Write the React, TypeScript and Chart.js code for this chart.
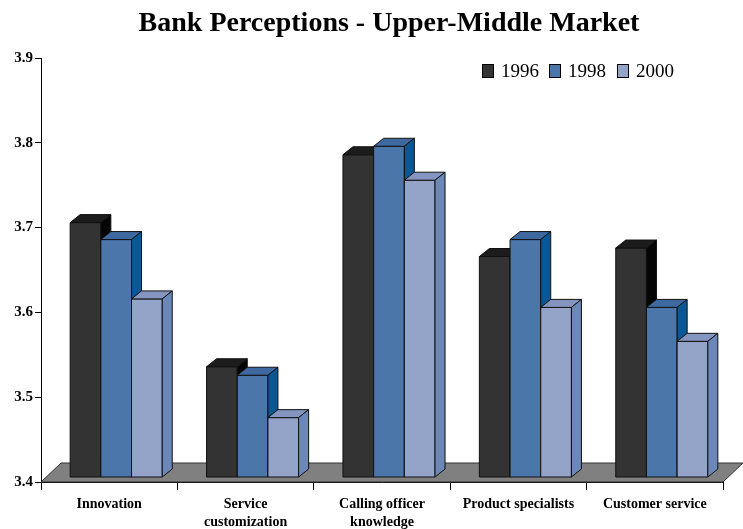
import React, { useEffect, useRef } from "react";
import { Chart, registerables } from "chart.js";

Chart.register(...registerables);

const title = "Bank Perceptions - Upper-Middle Market";
const categories = [
  "Innovation",
  ["Service", "customization"],
  ["Calling officer", "knowledge"],
  "Product specialists",
  "Customer service",
];
const seriesNames = ["1996", "1998", "2000"];
const values1996 = [3.7, 3.53, 3.78, 3.66, 3.67];
const values1998 = [3.68, 3.52, 3.79, 3.68, 3.6];
const values2000 = [3.61, 3.47, 3.75, 3.6, 3.56];
const yMin = 3.4;
const yMax = 3.9;
const yStep = 0.1;

const FRONT = ["#333333", "#4a76aa", "#94a4c8"];
const TOP = ["#1c1c1c", "#3d69a0", "#8495c0"];
const SIDE = ["#050505", "#0a5796", "#6c88b8"];

const SERIF = '"Liberation Serif", "Times New Roman", serif';

const threeD = {
  id: "threeD",
  beforeDatasetsDraw(chart: any) {
    const ctx = chart.ctx;
    const area = chart.chartArea;
    const fdx = 20, fdy = -19;
    // floor
    ctx.save();
    ctx.beginPath();
    ctx.moveTo(area.left, area.bottom);
    ctx.lineTo(area.right, area.bottom);
    ctx.lineTo(area.right + fdx, area.bottom + fdy);
    ctx.lineTo(area.left + fdx, area.bottom + fdy);
    ctx.closePath();
    ctx.fillStyle = "#808080";
    ctx.fill();
    ctx.strokeStyle = "#333333";
    ctx.lineWidth = 1;
    ctx.stroke();

    const ox = 7, oy = -5, dx = 10, dy = -8;
    const n = chart.data.labels.length;
    const basePx = chart.scales.y.getPixelForValue(yMin);
    const metas = chart.data.datasets.map((_: any, i: number) => chart.getDatasetMeta(i));
    for (let j = 0; j < n; j++) {
      for (let i = 0; i < metas.length; i++) {
        const el = metas[i].data[j];
        if (!el) continue;
        const props = el.getProps(["x", "y", "width"], true);
        const l = props.x - props.width / 2 + ox;
        const r = props.x + props.width / 2 + ox;
        const t = props.y + oy;
        const b = basePx + oy;
        ctx.strokeStyle = "#111111";
        ctx.lineWidth = 1;
        ctx.lineJoin = "round";
        // front
        ctx.fillStyle = FRONT[i];
        ctx.beginPath();
        ctx.rect(l, t, r - l, b - t);
        ctx.fill();
        ctx.stroke();
        // top
        ctx.fillStyle = TOP[i];
        ctx.beginPath();
        ctx.moveTo(l, t);
        ctx.lineTo(l + dx, t + dy);
        ctx.lineTo(r + dx, t + dy);
        ctx.lineTo(r, t);
        ctx.closePath();
        ctx.fill();
        ctx.stroke();
        // side
        ctx.fillStyle = SIDE[i];
        ctx.beginPath();
        ctx.moveTo(r, t);
        ctx.lineTo(r + dx, t + dy);
        ctx.lineTo(r + dx, b + dy);
        ctx.lineTo(r, b);
        ctx.closePath();
        ctx.fill();
        ctx.stroke();
      }
    }
    ctx.restore();
    return false;
  },
  afterDraw(chart: any) {
    const ctx = chart.ctx;
    ctx.save();
    // title
    ctx.fillStyle = "#000";
    ctx.font = `bold 28px ${SERIF}`;
    ctx.textAlign = "center";
    ctx.textBaseline = "middle";
    ctx.fillText(title, 389, 24);
    // legend
    const boxX = [482, 549, 617];
    ctx.font = `19px ${SERIF}`;
    ctx.textAlign = "left";
    seriesNames.forEach((name, i) => {
      ctx.fillStyle = FRONT[i];
      ctx.fillRect(boxX[i], 64, 11, 13);
      ctx.strokeStyle = "#000";
      ctx.lineWidth = 1;
      ctx.strokeRect(boxX[i] + 0.5, 64.5, 11, 13);
      ctx.fillStyle = "#000";
      ctx.fillText(name, boxX[i] + 19, 72);
    });
    ctx.restore();
  },
};

export default function App() {
  const ref = useRef<HTMLCanvasElement | null>(null);
  useEffect(() => {
    document.body.style.margin = "0";
    const canvas = ref.current!;
    const chart = new Chart(canvas, {
      type: "bar",
      data: {
        labels: categories as any,
        datasets: [
          { label: seriesNames[0], data: values1996, backgroundColor: FRONT[0] },
          { label: seriesNames[1], data: values1998, backgroundColor: FRONT[1] },
          { label: seriesNames[2], data: values2000, backgroundColor: FRONT[2] },
        ],
      },
      options: {
        responsive: false,
        animation: false,
        devicePixelRatio: 1,
        layout: { padding: { top: 58, right: 20, left: 0, bottom: 0 } },
        plugins: {
          legend: { display: false },
          title: { display: false },
          tooltip: { enabled: false },
        },
        datasets: { bar: { barPercentage: 1, categoryPercentage: 0.675 } } as any,
        scales: {
          x: {
            grid: {
              offset: true,
              drawOnChartArea: false,
              drawTicks: true,
              tickLength: 8,
              color: "#000",
            },
            border: { display: true, color: "#000", width: 1 },
            ticks: {
              color: "#000",
              font: { family: SERIF, size: 14, weight: "bold", lineHeight: 1.3 },
              padding: 5,
              maxRotation: 0,
              autoSkip: false,
            },
            afterFit: (s: any) => {
              s.height = 47;
            },
          },
          y: {
            min: yMin,
            max: yMax,
            grid: {
              drawOnChartArea: false,
              drawTicks: true,
              tickLength: 6,
              color: "#000",
            },
            border: { display: true, color: "#000", width: 1 },
            ticks: {
              stepSize: yStep,
              color: "#000",
              font: { family: SERIF, size: 15, weight: "bold" },
              padding: 2,
              callback: (v: any) => Number(v).toFixed(1),
            },
            afterFit: (s: any) => {
              s.width = 41;
            },
          },
        },
      },
      plugins: [threeD],
    });
    return () => chart.destroy();
  }, []);
  return (
    <div style={{ width: 743, height: 529 }}>
      <canvas ref={ref} width={743} height={529} style={{ display: "block" }} />
    </div>
  );
}
